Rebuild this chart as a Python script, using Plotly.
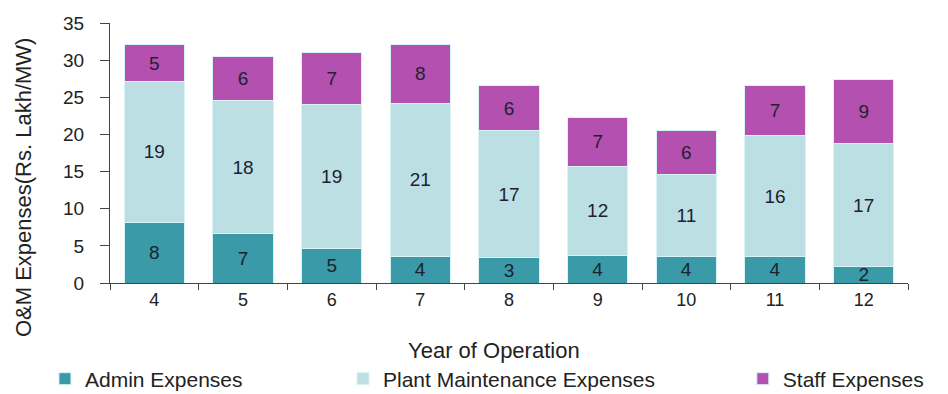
import plotly.graph_objects as go

years = ["4", "5", "6", "7", "8", "9", "10", "11", "12"]
admin = [8.2, 6.6, 4.6, 3.6, 3.4, 3.7, 3.6, 3.6, 2.2]
plant = [18.9, 18.0, 19.4, 20.6, 17.1, 12.0, 11.0, 16.2, 16.6]
staff = [5.0, 5.9, 7.0, 7.9, 6.1, 6.6, 5.9, 6.8, 8.6]

FONT = "Liberation Sans, Arial, sans-serif"
series = [
    ("Admin Expenses", admin, "#3a9aa8", "legend"),
    ("Plant Maintenance Expenses", plant, "#bcdfe4", "legend2"),
    ("Staff Expenses", staff, "#b450b0", "legend3"),
]

fig = go.Figure()
for name, vals, col, lg in series:
    fig.add_trace(go.Bar(
        x=years, y=vals, name=name,
        marker=dict(color=col, line=dict(color="#d8f2f6", width=1)),
        text=[f"{v:.0f}" for v in vals], textposition="inside", insidetextanchor="middle",
        constraintext="none", textangle=0,
        textfont=dict(family=FONT, size=19, color="#1c2230"),
        legend=lg,
    ))

leg_common = dict(orientation="h", yref="container", y=0.038, yanchor="middle",
                  xref="paper", xanchor="left",
                  font=dict(family=FONT, size=21, color="#222"),
                  bgcolor="rgba(0,0,0,0)", itemwidth=30)

fig.update_layout(
    barmode="stack", bargap=0.32,
    width=948, height=394,
    margin=dict(l=110, r=40, t=23, b=111, autoexpand=False),
    paper_bgcolor="white", plot_bgcolor="white",
    font=dict(family=FONT, size=16, color="#222"),
    showlegend=True,
    legend=dict(**leg_common, x=-0.0815),
    legend2=dict(**leg_common, x=0.292),
    legend3=dict(**leg_common, x=0.793),
    xaxis=dict(
        automargin=False,
        showline=True, linecolor="#444", linewidth=1,
        ticks="outside", tickson="boundaries", ticklen=6, tickcolor="#444",
        tickfont=dict(family=FONT, size=18, color="#222"),
    ),
    yaxis=dict(
        automargin=False,
        range=[0, 35], dtick=5, showgrid=False, zeroline=False,
        showline=True, linecolor="#444", linewidth=1,
        ticks="outside", ticklen=9, tickcolor="#444", ticklabelstandoff=12,
        tickfont=dict(family=FONT, size=19, color="#222"),
    ),
    annotations=[
        dict(text="Year of Operation", xref="paper", yref="paper", x=0.481, y=-0.26,
             xanchor="center", yanchor="middle", showarrow=False,
             font=dict(family=FONT, size=22, color="#222")),
        dict(text="O&M Expenses(Rs. Lakh/MW)", xref="paper", yref="paper", x=-0.109, y=0.369,
             xanchor="center", yanchor="middle", showarrow=False, textangle=-90,
             font=dict(family=FONT, size=22, color="#222")),
    ],
)

fig.write_html("out.html")
